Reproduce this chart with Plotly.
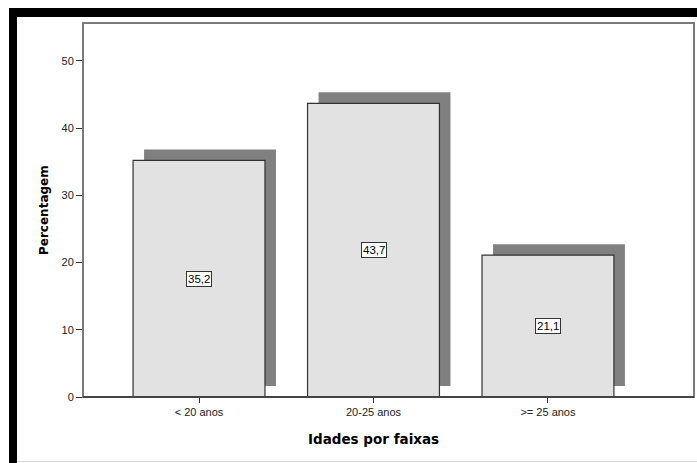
import plotly.graph_objects as go

# Age-group distribution (percent)
categories = ["< 20 anos", "20-25 anos", ">= 25 anos"]
percentages = [35.2, 43.7, 21.1]
y_ticks = [0, 10, 20, 30, 40, 50]

W, H = 697, 463
ML, MR, MT, MB = 83, 3, 23, 66
PW, PH = W - ML - MR, H - MT - MB

X_RANGE = [-0.665, 2.837]
Y_RANGE = [0, 55.65]
BAR_W = 0.756
# drop-shadow offset expressed in axis units (about 11 px right / 11 px up)
SH_DX = 11 * (X_RANGE[1] - X_RANGE[0]) / PW
SH_DY = 11 * (Y_RANGE[1] - Y_RANGE[0]) / PH

xs = list(range(len(categories)))

fig = go.Figure()

# shadow bars
fig.add_trace(go.Bar(
    x=xs, y=percentages, base=[SH_DY] * len(xs),
    width=BAR_W, offset=-BAR_W / 2 + SH_DX,
    marker=dict(color="#808080", line=dict(width=0)),
    hoverinfo="skip", showlegend=False,
))
# front bars
fig.add_trace(go.Bar(
    x=xs, y=percentages,
    width=BAR_W, offset=-BAR_W / 2,
    marker=dict(color="#e2e2e2", line=dict(color="#333333", width=1.2)),
    showlegend=False,
))

# value boxes in the middle of each bar
for x, v in zip(xs, percentages):
    fig.add_annotation(
        x=x, y=v / 2, xref="x", yref="y",
        text=f"{v:.1f}".replace(".", ","),
        showarrow=False, xanchor="center", yanchor="middle",
        font=dict(family="Liberation Sans, Arial", size=11.5, color="#000"),
        bgcolor="#ffffff", bordercolor="#333333", borderwidth=1, borderpad=1,
    )

def px_x(p):
    return (p - ML) / PW

def px_y(p):
    return (H - MB - p) / PH

# axis titles
fig.add_annotation(
    x=px_x(44), y=px_y(210), xref="paper", yref="paper",
    xanchor="center", yanchor="middle",
    text="<b>Percentagem</b>", textangle=-90, showarrow=False,
    font=dict(family="DejaVu Sans", size=12, color="#000"),
)
fig.add_annotation(
    x=px_x(373), y=px_y(439), xref="paper", yref="paper",
    xanchor="center", yanchor="middle",
    text="<b>Idades por faixas</b>", showarrow=False,
    font=dict(family="DejaVu Sans", size=13.5, color="#000"),
)

shapes = [
    # plot frame
    dict(type="rect", xref="paper", yref="paper", x0=0, x1=1, y0=0, y1=1,
         line=dict(color="#7a7a7a", width=2), layer="above"),
    # baseline
    dict(type="line", xref="paper", yref="paper", x0=0, x1=1, y0=0, y1=0,
         line=dict(color="#333333", width=1.5), layer="above"),
    # outer black border (left and top)
    dict(type="rect", xref="paper", yref="paper",
         x0=px_x(9), x1=px_x(17), y0=px_y(H), y1=px_y(8),
         fillcolor="#000", line=dict(width=0), layer="above"),
    dict(type="rect", xref="paper", yref="paper",
         x0=px_x(9), x1=px_x(W), y0=px_y(17), y1=px_y(8),
         fillcolor="#000", line=dict(width=0), layer="above"),
    # faint bottom edge
    dict(type="line", xref="paper", yref="paper",
         x0=px_x(17), x1=px_x(W), y0=px_y(461.5), y1=px_y(461.5),
         line=dict(color="#d8d8d8", width=1), layer="above"),
]

fig.update_layout(
    width=W, height=H,
    margin=dict(l=ML, r=MR, t=MT, b=MB),
    paper_bgcolor="#ffffff", plot_bgcolor="#ffffff",
    barmode="overlay",
    shapes=shapes,
    font=dict(family="Liberation Sans, Arial", size=11, color="#222"),
    xaxis=dict(
        range=X_RANGE, tickvals=xs, ticktext=categories,
        showgrid=False, zeroline=False, showline=False,
        ticks="outside", ticklen=5, tickcolor="#333", tickwidth=1,
        tickfont=dict(family="Liberation Sans, Arial", size=11, color="#222"),
        fixedrange=True,
    ),
    yaxis=dict(
        range=Y_RANGE, tickvals=y_ticks,
        showgrid=False, zeroline=False, showline=False,
        ticks="outside", ticklen=6, tickcolor="#333", tickwidth=1,
        tickfont=dict(family="Liberation Sans, Arial", size=11, color="#222"),
        fixedrange=True,
    ),
)

fig.write_html("out.html")
